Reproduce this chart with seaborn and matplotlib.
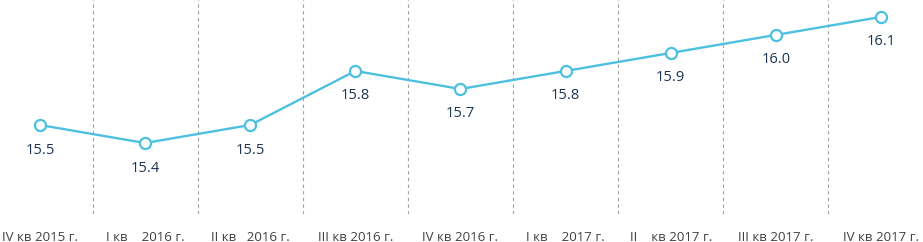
import matplotlib
matplotlib.use("Agg")
import matplotlib.pyplot as plt
import seaborn as sns
import pandas as pd

categories = ["IV кв 2015 г.", "I кв    2016 г.", "II кв   2016 г.", "III кв 2016 г.",
              "IV кв 2016 г.", "I кв    2017 г.", "II    кв 2017 г.", "III кв 2017 г.",
              "IV кв 2017 г."]
values = [15.5, 15.4, 15.5, 15.8, 15.7, 15.8, 15.9, 16.0, 16.1]
value_labels = ["15.5", "15.4", "15.5", "15.8", "15.7", "15.8", "15.9", "16.0", "16.1"]

sns.set_theme(style="white")
plt.rcParams['font.family'] = ['Open Sans', 'DejaVu Sans']

df = pd.DataFrame({"x": range(len(categories)), "v": values})

fig = plt.figure(figsize=(9.23, 2.42), dpi=100)
ax = fig.add_axes([0, 28/242, 1, 214/242])

line_color = "#4dc0e0"
sns.lineplot(data=df, x="x", y="v", ax=ax, color=line_color, linewidth=1.7,
             marker="o", markersize=8, markerfacecolor="white",
             markeredgecolor=line_color, markeredgewidth=1.6, zorder=3)

for i in range(len(categories) - 1):
    ax.axvline(i + 0.5, color="#a0a0a0", linestyle=(0, (3, 3)), linewidth=0.8, zorder=1)

for i, (v, t) in enumerate(zip(values, value_labels)):
    ax.annotate(t, (i, v), xytext=(0, -25), textcoords="offset pixels",
                ha="center", va="center", fontsize=10.5, color="#1c3553")

ax.set_xlim(-0.38, 8.40)
ax.set_ylim(15.006, 16.194)
ax.set_xticks(range(len(categories)))
ax.set_xticklabels(categories, fontsize=9.5, color="#404040")
ax.tick_params(axis="x", length=0, pad=12)
ax.set_yticks([])
ax.set_xlabel("")
ax.set_ylabel("")
for s in ax.spines.values():
    s.set_visible(False)

fig.savefig("out.png", dpi=100)
